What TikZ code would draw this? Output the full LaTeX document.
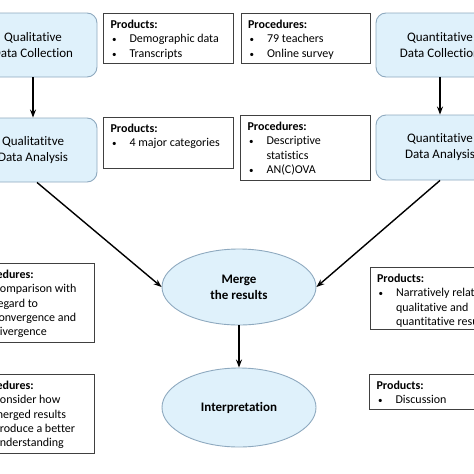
\documentclass[tikz,border=0pt]{standalone}
\usepackage{fontspec}
\setmainfont[Ligatures=NoCommon]{Carlito}
\usetikzlibrary{shapes.geometric,arrows.meta}
\definecolor{boxfill}{HTML}{DFF1FB}
\definecolor{boxline}{HTML}{8EA9BF}
\definecolor{infoline}{HTML}{404040}
\newcommand{\infotext}[3]{\parbox[t][#2][t]{#1}{\fontsize{12}{14.3}\selectfont\raggedright\vspace*{5pt}\strut #3}}
\newcommand{\bitem}[1]{\par\hangindent=19pt\hangafter=1\noindent\makebox[19pt][l]{\hspace{1.5pt}{\fontsize{9}{9}\selectfont•}}#1}
\tikzset{
  mainbox/.style={draw=boxline, fill=boxfill, rounded corners=10pt, minimum width=128pt,
    minimum height=64pt, align=center, font=\fontsize{13}{16}\selectfont, line width=0.9pt},
  ellbox/.style={ellipse, draw=boxline, fill=boxfill, minimum width=154pt, minimum height=76pt,
    align=center, font=\bfseries\fontsize{13}{16}\selectfont, line width=0.9pt, inner sep=0pt},
  infobox/.style={draw=infoline, fill=white, line width=1.1pt, inner xsep=7pt, inner ysep=0pt, anchor=north west},
  arr/.style={-{Stealth[length=8pt,width=6pt]}, line width=1.4pt, black}
}
\begin{document}
\begin{tikzpicture}[x=1pt,y=-1pt]
\useasboundingbox (0,0) rectangle (474,474);
\clip (0,0) rectangle (474,474);
% main boxes
\node[mainbox] (qlc) at (33,45) {Qualitative\\Data Collection};
\node[mainbox] (qla) at (33,150) {Qualitatitve\\Data Analysis};
\node[mainbox] (qnc) at (440,45) {Quantitative\\Data Collection};
\node[mainbox, minimum height=65pt] (qna) at (440,147.5) {Quantitative\\Data Analysis};
% ellipses
\node[ellbox] (merge) at (239,287) {Merge\\the results};
\node[ellbox, minimum height=79pt] (interp) at (239,407.5) {Interpretation};
% info boxes
\node[infobox] (p1) at (103,13) {\infotext{116pt}{50pt}{\textbf{Products:}\bitem{Demographic data}\bitem{Transcripts}}};
\node[infobox] (r1) at (240.5,13) {\infotext{115.5pt}{50pt}{\textbf{Procedures:}\bitem{79 teachers}\bitem{Online survey}}};
\node[infobox] (p2) at (103,117) {\infotext{116pt}{51pt}{\textbf{Products:}\bitem{4 major categories}}};
\node[infobox] (r2) at (240,115) {\infotext{116pt}{65pt}{\textbf{Procedures:}\bitem{Descriptive\newline statistics}\bitem{AN(C)OVA}}};
\node[infobox] (r3) at (-33,263) {\infotext{113pt}{79pt}{\textbf{Procedures:}\bitem{Comparison with\newline regard to\newline convergence and\newline divergence}}};
\node[infobox] (r4) at (-33,374) {\infotext{113pt}{79pt}{\textbf{Procedures:}\bitem{Consider how\newline merged results\newline produce a better\newline understanding}}};
\node[infobox] (p3) at (369.5,267) {\infotext{130pt}{62pt}{\textbf{Products:}\bitem{Narratively relating\newline qualitative and\newline quantitative results}}};
\node[infobox] (p4) at (369,374) {\infotext{130pt}{35pt}{\textbf{Products:}\bitem{Discussion}}};
% arrows
\draw[arr] (qlc) -- (qla);
\draw[arr] (qnc) -- (qna);
\draw[arr] ([xshift=4pt]qla.south) -- (merge.west);
\draw[arr] (qna.south) -- (merge.east);
\draw[arr] (merge) -- (interp);
\end{tikzpicture}
\end{document}
